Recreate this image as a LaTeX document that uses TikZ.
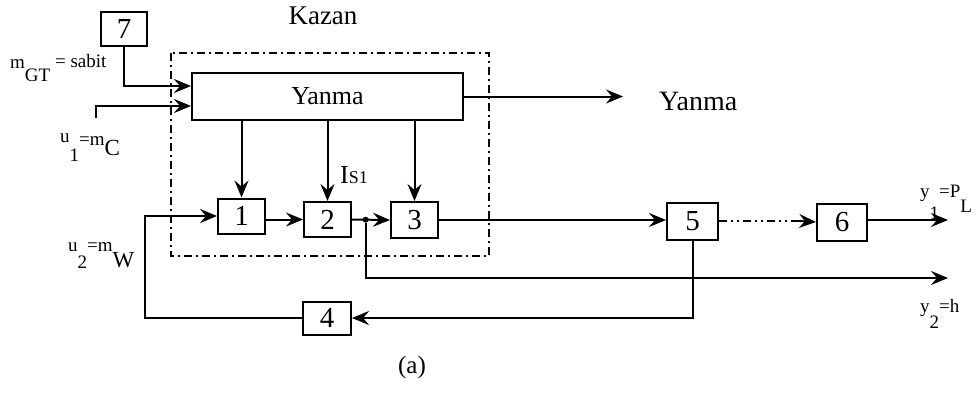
\documentclass[tikz,border=0pt]{standalone}
\usepackage{fontspec}
\setmainfont{Liberation Serif}
\usetikzlibrary{arrows.meta,calc}
\begin{document}
\begin{tikzpicture}[x=1pt,y=-1pt,
  blk/.style={draw,line width=2pt,inner sep=0pt,font=\fontsize{29}{29}\selectfont},
  arr/.style={line width=2pt,-{Stealth[length=17pt,width=14pt,inset=6pt]}},
  ln/.style={line width=2pt},
  lbl/.style={inner sep=0pt,font=\fontsize{27}{27}\selectfont},
  sml/.style={inner sep=0pt,anchor=base west,font=\fontsize{19}{19}\selectfont},
  kz/.style={line width=1.6pt,dash pattern=on 8pt off 4pt on 2pt off 4pt}]
\useasboundingbox (0,0) rectangle (977,392);
% Kazan boundary
\draw[kz] (171,53) rectangle (489,256);
\node[lbl] (kazan) at (323,16) {Kazan};
% blocks
\node[blk,minimum width=46pt,minimum height=34pt] (b7) at (124,29) {7};
\node[blk,minimum width=271pt,minimum height=47pt,font=\fontsize{26}{26}\selectfont] (yan) at (327.5,96.5) {Yanma};
\node[blk,minimum width=47pt,minimum height=35pt] (b1) at (241.5,216) {1};
\node[blk,minimum width=47pt,minimum height=35pt] (b2) at (327.5,219.5) {2};
\node[blk,minimum width=47pt,minimum height=36pt] (b3) at (414.5,220) {3};
\node[blk,minimum width=48pt,minimum height=33pt] (b4) at (327,318) {4};
\node[blk,minimum width=51pt,minimum height=37pt] (b5) at (692.5,221) {5};
\node[blk,minimum width=50pt,minimum height=37pt] (b6) at (842,222) {6};
% free ends
\coordinate (u1) at (96,118);
\coordinate (c1) at (145,216);
\coordinate (yout) at (623,96.5);
\coordinate (y1end) at (948,220);
\coordinate (y2end) at (948,278);
% inputs to Yanma
\draw[arr] (b7.south) |- ([yshift=10.5pt]yan.west);
\draw[arr] (u1) |- ([yshift=-9.5pt]yan.west);
% Yanma output
\draw[arr] (yan.east) -- (yout);
\node[lbl,anchor=west,font=\fontsize{28}{28}\selectfont] (yanlbl) at (659,101) {Yanma};
% Yanma down arrows
\draw[arr] (yan.south -| b1.north) -- (b1.north);
\draw[arr] (yan.south -| b2.north) -- (b2.north);
\draw[arr] (yan.south -| b3.north) -- (b3.north);
\node[inner sep=0pt,anchor=base west,font=\fontsize{26}{26}\selectfont] (is1) at (340,183) {I{\fontsize{18}{18}\selectfont S1}};
% chain
\draw[arr] (b4.west) -- (b4.west -| c1) -- (c1) -- (b1.west);
\draw[arr] (b1.east |- b2.west) -- (b2.west);
\draw[arr] (b2.east) -- (b3.west);
\node[circle,fill,inner sep=0pt,minimum size=6pt] (dt) at ($(b2.east)!0.36!(b3.west)$) {};
\draw[arr] (dt) |- (y2end);
\draw[arr] (b3.east) -- (b3.east -| b5.west);
\draw[ln,dash pattern=on 8pt off 4pt on 2pt off 4pt on 2pt off 4pt] (b5.east) -- ([xshift=-16pt]b5.east -| b6.west);
\draw[arr] ([xshift=-17pt]b5.east -| b6.west) -- (b6.west);
\draw[arr] (b6.east |- y1end) -- (y1end);
\draw[arr] (b5.south) |- (b4.east);
% labels
\node[sml] (lgt) at (10,68) {m\raisebox{-13pt}{GT}\raisebox{1pt}{ = sabit}};
\node[sml] (lu1) at (60,142) {u\raisebox{-19pt}{1}\raisebox{-3pt}{=m}\raisebox{-13pt}{\fontsize{23}{23}\selectfont C}};
\node[sml] (lu2) at (68,251) {u\raisebox{-17pt}{2}=m\raisebox{-16pt}{\fontsize{23}{23}\selectfont W}};
\node[sml] (ly1) at (920,197) {y\raisebox{-22pt}{1}=P\raisebox{-15pt}{L}};
\node[sml] (ly2) at (920,312) {y\raisebox{-16pt}{2}=h};
\node[lbl,font=\fontsize{25}{25}\selectfont] (a) at (412,367) {(a)};
\end{tikzpicture}
\end{document}
